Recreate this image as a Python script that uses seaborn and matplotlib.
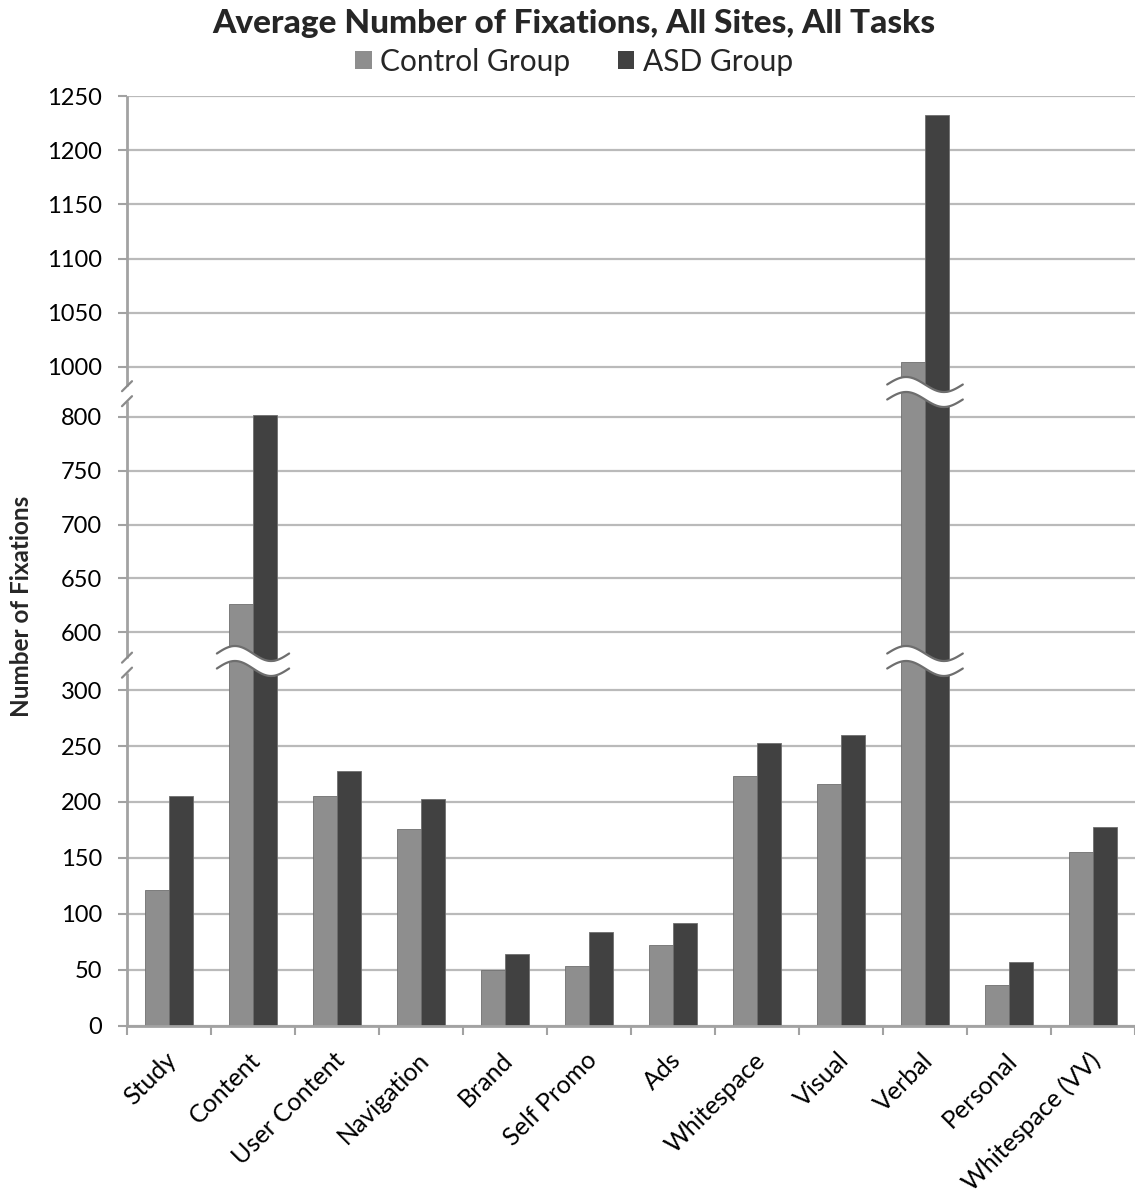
import numpy as np
import pandas as pd
import matplotlib
matplotlib.use("Agg")
import matplotlib.pyplot as plt
import matplotlib.transforms as mtransforms
from matplotlib.patches import Patch
import seaborn as sns

# ---- data -------------------------------------------------------------
categories = ["Study", "Content", "User Content", "Navigation", "Brand",
              "Self Promo", "Ads", "Whitespace", "Visual", "Verbal",
              "Personal", "Whitespace (VV)"]
control_group = [121, 626, 205, 176, 50, 54, 72, 223, 216, 1004, 37, 155]
asd_group = [205, 805, 228, 203, 64, 84, 92, 253, 260, 1233, 57, 178]
group_names = ["Control Group", "ASD Group"]
y_ticks = [0, 50, 100, 150, 200, 250, 300,
           600, 650, 700, 750, 800,
           1000, 1050, 1100, 1150, 1200, 1250]

# ---- broken value axis: piecewise-linear scale (value -> drawn height) ----
SEG_VALS = np.array([-300.0, 0, 300, 600, 800, 1000, 1250, 1500])
SEG_HGT = np.array([-336.0, 0, 336, 393.7, 609.3, 659.3, 929.8, 1200.3])
AX_H = 929.8  # drawn height of the value range 0..1250


def fwd(v):
    return np.interp(np.asarray(v, dtype=float), SEG_VALS, SEG_HGT)


def inv(h):
    return np.interp(np.asarray(h, dtype=float), SEG_HGT, SEG_VALS)


CONTROL_C = "#8e8e8e"
ASD_C = "#414141"
GRID_C = "#bababa"
AXIS_C = "#a2a2a2"

sns.set_style("white")
plt.rcParams["font.family"] = ["Lato", "DejaVu Sans"]

df = pd.DataFrame({
    "category": categories * 2,
    "group": [group_names[0]] * len(categories) + [group_names[1]] * len(categories),
    "value": control_group + asd_group,
})

W, H = 1135, 1201
fig = plt.figure(figsize=(W / 100, H / 100), dpi=100)
ax = fig.add_axes([127 / W, (H - 1026) / H, 1008 / W, AX_H / H])

sns.barplot(data=df, x="category", y="value", hue="group",
            palette=[CONTROL_C, ASD_C], width=0.56, ax=ax,
            legend=False, saturation=1, errorbar=None,
            edgecolor="#6f6f6f", linewidth=0.6, zorder=3)

ax.set_yscale("function", functions=(fwd, inv))
ax.set_ylim(0, 1250)
ax.set_xlim(-0.5, len(categories) - 0.5)
ax.set_yticks(y_ticks)
ax.set_yticklabels([str(t) for t in y_ticks])
ax.set_xlabel("")
ax.set_ylabel("")

# gridlines
ax.set_axisbelow(True)
ax.yaxis.grid(True, color=GRID_C, linewidth=1.6)
ax.xaxis.grid(False)

# ticks
ax.tick_params(axis="y", length=6.5, width=1.5, color=AXIS_C, pad=11.5,
               labelsize=17, labelcolor="black", left=True)
ax.set_xticks(range(len(categories)))
ax.set_xticks(np.arange(-0.5, len(categories), 1.0), minor=True)
ax.tick_params(axis="x", which="major", length=0, pad=22, labelsize=18,
               labelcolor="black")
ax.tick_params(axis="x", which="minor", length=6.5, width=1.5, color=AXIS_C,
               bottom=True)
for lab in ax.get_xticklabels():
    lab.set_rotation(45)
    lab.set_ha("right")
    lab.set_va("center")
    lab.set_rotation_mode("anchor")
    lab.set_transform(lab.get_transform() +
                      mtransforms.ScaledTranslation(4 / 100, 0, fig.dpi_scale_trans))

for side in ["top", "right", "left"]:
    ax.spines[side].set_visible(False)
ax.spines["bottom"].set_color(AXIS_C)
ax.spines["bottom"].set_linewidth(2.0)
ax.spines["bottom"].set_zorder(4)

# left axis line, interrupted at the two breaks with slash marks
AX_W = 1008.0
brk_lo = (336 + 393.7) / 2 - 4
brk_hi = (609.3 + 659.3) / 2 - 2
gap = 7.5
segments = [(0, brk_lo - gap), (brk_lo + gap, brk_hi - gap), (brk_hi + gap, AX_H)]
for a, b in segments:
    ax.plot([0, 0], [a / AX_H, b / AX_H], transform=ax.transAxes,
            color=AXIS_C, lw=2.0, clip_on=False, zorder=5,
            solid_capstyle="butt")
for c in (brk_lo, brk_hi):
    for dy in (-gap, gap):
        yc = c + dy
        ax.plot([-5 / AX_W, 5 / AX_W], [(yc - 5) / AX_H, (yc + 5) / AX_H],
                transform=ax.transAxes, color="#8a8a8a", lw=1.6,
                clip_on=False, zorder=5)

# wavy break bands across the tall bars
band_tr = mtransforms.blended_transform_factory(ax.transData, ax.transAxes)


def wave_band(xc, hc, half=0.43):
    t = np.linspace(0, 1, 120)
    xs = xc - half + 2 * half * t
    s = 7.5 * np.sin(2 * np.pi * t)
    upper = (hc + 7.5 + s) / AX_H
    lower = (hc - 7.5 + s) / AX_H
    ax.fill_between(xs, lower, upper, transform=band_tr, color="white",
                    lw=0, zorder=6)
    for yy in (upper, lower):
        ax.plot(xs, yy, transform=band_tr, color="#6e6e6e", lw=1.6,
                zorder=7, solid_capstyle="round")


i_content = categories.index("Content")
i_verbal = categories.index("Verbal")
wave_band(i_content, 365)
wave_band(i_verbal, 365, half=0.45)
wave_band(i_verbal, 634, half=0.45)

# titles and legend
fig.text(573.5 / W, 1 - 24 / H, "Average Number of Fixations, All Sites, All Tasks",
         ha="center", va="center", fontsize=24, fontweight="black")
fig.text(22 / W, 1 - 606 / H, "Number of Fixations", rotation=90,
         ha="center", va="center", fontsize=17.5, fontweight="bold")

handles = [Patch(facecolor=CONTROL_C, edgecolor="none"),
           Patch(facecolor=ASD_C, edgecolor="none")]
fig.legend(handles, group_names, loc="center", bbox_to_anchor=(574 / W, 1 - 62 / H),
           ncol=2, frameon=False, fontsize=21.5, handlelength=0.55, handleheight=0.55,
           handletextpad=0.28, columnspacing=1.6, borderpad=0)

fig.savefig("out.png", dpi=100, facecolor="white")
